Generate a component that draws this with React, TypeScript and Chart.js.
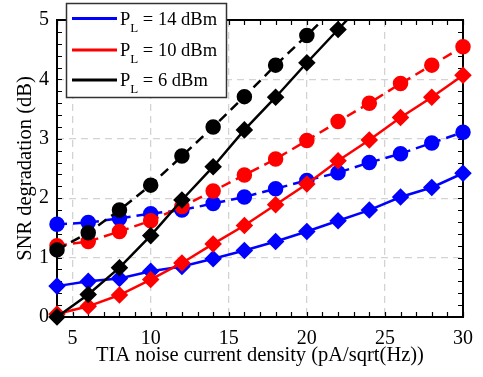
import React, { useEffect, useRef } from "react";
import { Chart, registerables } from "chart.js";

Chart.register(...registerables);

const FONT = "'Liberation Serif', 'Times New Roman', serif";

const xValues = [4, 6, 8, 10, 12, 14, 16, 18, 20, 22, 24, 26, 28, 30];
const xTickLabels = [5, 10, 15, 20, 25, 30];
const yTickLabels = [0, 1, 2, 3, 4, 5];

// P_L = 14 dBm
const blueSolid = [0.52, 0.6, 0.65, 0.77, 0.85, 0.98, 1.12, 1.27, 1.44, 1.62, 1.8, 2.02, 2.18, 2.42];
const blueDashed = [1.56, 1.59, 1.66, 1.74, 1.8, 1.91, 2.02, 2.16, 2.3, 2.43, 2.6, 2.75, 2.93, 3.11];
// P_L = 10 dBm
const redSolid = [0.05, 0.18, 0.37, 0.63, 0.91, 1.23, 1.54, 1.89, 2.24, 2.63, 2.98, 3.36, 3.7, 4.07];
const redDashed = [1.2, 1.27, 1.44, 1.62, 1.86, 2.12, 2.39, 2.66, 2.97, 3.29, 3.6, 3.93, 4.24, 4.55];
// P_L = 6 dBm
const blackSolid = [0.0, 0.38, 0.83, 1.37, 1.97, 2.53, 3.15, 3.7, 4.28, 4.84, 5.4];
const blackDashed = [1.13, 1.42, 1.8, 2.22, 2.71, 3.2, 3.71, 4.24, 4.74, 5.26];

const legendLabels = ["14 dBm", "10 dBm", "6 dBm"];
const legendColors = ["#0000ff", "#ff0000", "#000000"];

const toPoints = (ys: number[]) => ys.map((y, i) => ({ x: xValues[i], y }));

const framePlugin = {
  id: "frame",
  beforeDatasetsDraw(chart: any) {
    const { ctx, chartArea } = chart;
    const { left, right, top, bottom } = chartArea;
    const xs = chart.scales.x;
    const ys = chart.scales.y;
    ctx.save();
    ctx.strokeStyle = "#000";
    ctx.lineWidth = 1.2;
    ctx.beginPath();
    for (let v = 4; v <= 30; v += 1) {
      const px = Math.round(xs.getPixelForValue(v)) + 0.5;
      ctx.moveTo(px, bottom);
      ctx.lineTo(px, bottom - 5);
      ctx.moveTo(px, top);
      ctx.lineTo(px, top + 5);
    }
    for (let i = 0; i <= 25; i++) {
      const v = i * 0.2;
      const py = Math.round(ys.getPixelForValue(v)) + 0.5;
      ctx.moveTo(left, py);
      ctx.lineTo(left + 5, py);
      ctx.moveTo(right, py);
      ctx.lineTo(right - 5, py);
    }
    ctx.stroke();
    ctx.lineWidth = 2;
    ctx.strokeRect(left, top, right - left, bottom - top);
    ctx.restore();
  },
};

const legendPlugin = {
  id: "customLegend",
  afterDraw(chart: any) {
    const { ctx } = chart;
    ctx.save();
    ctx.fillStyle = "#fff";
    ctx.strokeStyle = "#333";
    ctx.lineWidth = 1.5;
    ctx.fillRect(66.5, 3.5, 160, 94);
    ctx.strokeRect(66.5, 3.5, 160, 94);
    const rows = [18.5, 50, 80];
    rows.forEach((ry, i) => {
      ctx.strokeStyle = legendColors[i];
      ctx.lineWidth = 3;
      ctx.beginPath();
      ctx.moveTo(72, ry);
      ctx.lineTo(117, ry);
      ctx.stroke();
      ctx.fillStyle = "#000";
      ctx.textBaseline = "alphabetic";
      ctx.textAlign = "left";
      ctx.font = `18.5px ${FONT}`;
      let x = 120;
      ctx.fillText("P", x, ry + 6);
      x += ctx.measureText("P").width;
      ctx.font = `13px ${FONT}`;
      ctx.fillText("L", x, ry + 13);
      x += ctx.measureText("L").width;
      ctx.font = `18.5px ${FONT}`;
      ctx.fillText(" = " + legendLabels[i], x, ry + 6);
    });
    ctx.restore();
  },
};

export default function App() {
  const ref = useRef<HTMLCanvasElement | null>(null);

  useEffect(() => {
    if (!ref.current) return;
    const common = { borderWidth: 2.5, clip: { left: 12, right: 12, bottom: 12, top: 0 } as any };
    const dash = [10, 6];
    const chart = new Chart(ref.current, {
      type: "line",
      data: {
        datasets: [
          { ...common, data: toPoints(blackSolid), borderColor: "#000", backgroundColor: "#000", pointStyle: "rectRot", pointRadius: 7, order: 0 },
          { ...common, data: toPoints(blackDashed), borderColor: "#000", backgroundColor: "#000", pointStyle: "circle", pointRadius: 6.5, borderDash: dash, order: 1 },
          { ...common, data: toPoints(redSolid), borderColor: "#ff0000", backgroundColor: "#ff0000", pointStyle: "rectRot", pointRadius: 7, order: 2 },
          { ...common, data: toPoints(redDashed), borderColor: "#ff0000", backgroundColor: "#ff0000", pointStyle: "circle", pointRadius: 6.5, borderDash: dash, order: 3 },
          { ...common, data: toPoints(blueSolid), borderColor: "#0000ff", backgroundColor: "#0000ff", pointStyle: "rectRot", pointRadius: 7, order: 4 },
          { ...common, data: toPoints(blueDashed), borderColor: "#0000ff", backgroundColor: "#0000ff", pointStyle: "circle", pointRadius: 6.5, borderDash: dash, order: 5 },
        ] as any,
      },
      options: {
        responsive: false,
        animation: false,
        layout: { padding: { top: 15, right: 14, left: 0, bottom: 0 } },
        plugins: { legend: { display: false }, tooltip: { enabled: false } },
        elements: { point: { borderWidth: 0, hoverRadius: 7 }, line: { tension: 0 } },
        scales: {
          x: {
            type: "linear",
            min: 4,
            max: 30,
            afterBuildTicks: (s: any) => {
              s.ticks = xTickLabels.map((v) => ({ value: v }));
            },
            afterFit: (s: any) => {
              s.height = 60;
            },
            grid: { color: "#d3d3d3", lineWidth: 1.3, drawTicks: false },
            border: { display: false, dash: [7, 5] },
            ticks: { color: "#000", font: { family: FONT, size: 20 }, padding: 10, maxRotation: 0 },
            title: {
              display: true,
              text: "TIA noise current density (pA/sqrt(Hz))",
              color: "#000",
              font: { family: FONT, size: 20.5 },
              padding: { top: 0, bottom: 9 },
            },
          },
          y: {
            type: "linear",
            min: 0,
            max: 5,
            afterBuildTicks: (s: any) => {
              s.ticks = yTickLabels.map((v) => ({ value: v }));
            },
            afterFit: (s: any) => {
              s.width = 57;
            },
            grid: { color: "#d3d3d3", lineWidth: 1.3, drawTicks: false },
            border: { display: false, dash: [7, 5] },
            ticks: { color: "#000", font: { family: FONT, size: 20 }, padding: 8 },
            title: {
              display: true,
              text: "SNR degradation (dB)",
              color: "#000",
              font: { family: FONT, size: 20.5 },
              padding: { top: 13, bottom: 0 },
            },
          },
        },
      },
      plugins: [framePlugin, legendPlugin],
    });
    return () => chart.destroy();
  }, []);

  return (
    <div style={{ position: "fixed", left: 0, top: 0, width: 483, height: 377, background: "#fff" }}>
      <canvas ref={ref} width={483} height={377} style={{ display: "block" }} />
    </div>
  );
}
